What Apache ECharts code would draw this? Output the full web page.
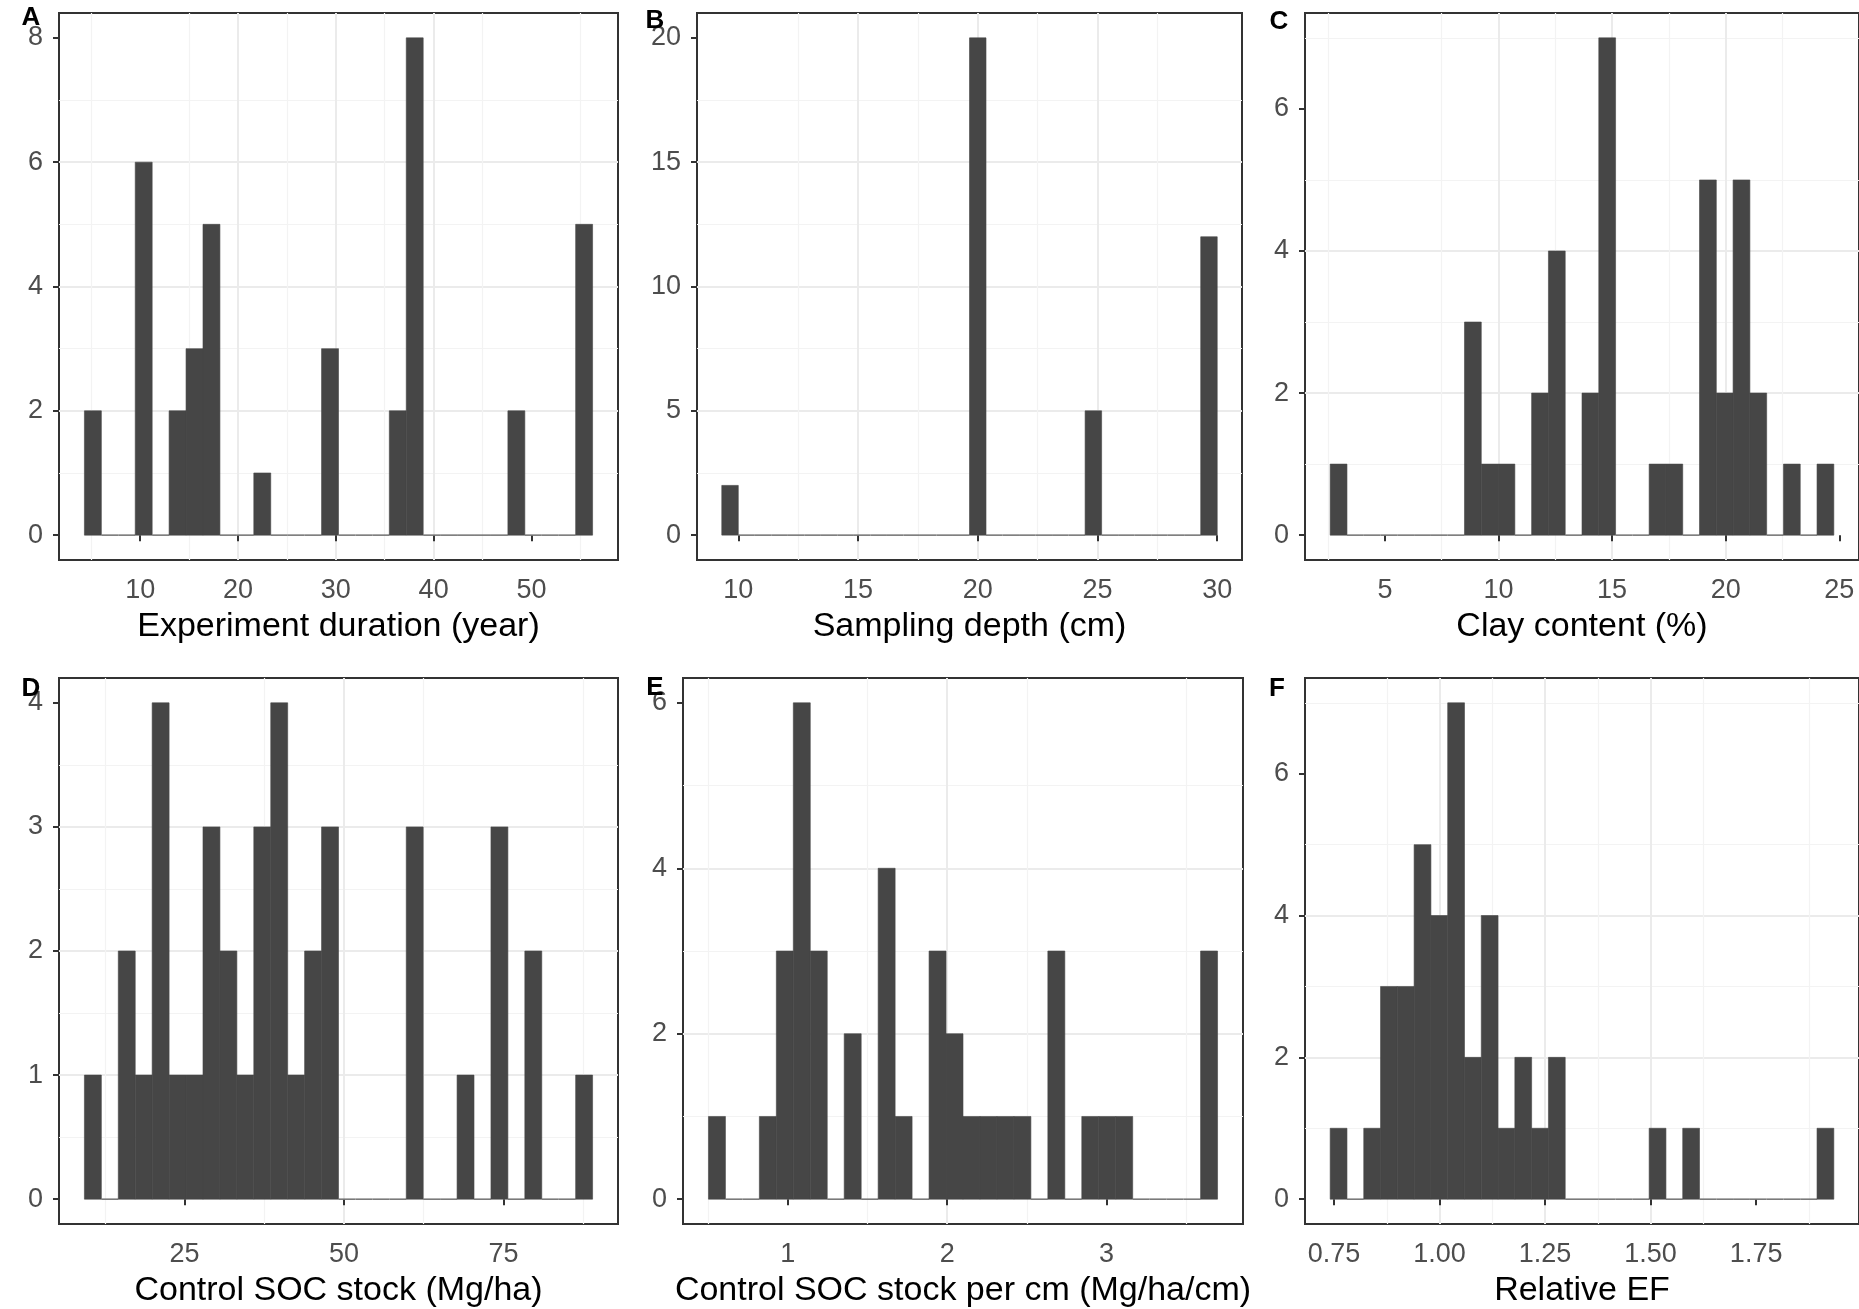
<!DOCTYPE html>
<html>
<head>
<meta charset="utf-8">
<title>Histograms</title>
<script src="https://cdn.jsdelivr.net/npm/echarts@6/dist/echarts.min.js"></script>
<style>
  html, body { margin: 0; padding: 0; background: #fff; }
  #chart { width: 1859px; height: 1309px; }
</style>
</head>
<body>
<div id="chart"></div>
<script>
// ---------------------------------------------------------------------------
// Data: 30-bin histograms (counts), outer bin edges, axis ticks
// ---------------------------------------------------------------------------
const durationCounts = [2, 0, 0, 6, 0, 2, 3, 5, 0, 0, 1, 0, 0, 0, 3, 0, 0, 0, 2, 8, 0, 0, 0, 0, 0, 2, 0, 0, 0, 5];
const durationRange  = [4.3, 56.25];
const durationTicksX = [10, 20, 30, 40, 50];
const durationTicksY = [0, 2, 4, 6, 8];

const depthCounts = [2, 0, 0, 0, 0, 0, 0, 0, 0, 0, 0, 0, 0, 0, 0, 20, 0, 0, 0, 0, 0, 0, 5, 0, 0, 0, 0, 0, 0, 12];
const depthRange  = [9.31, 30.0];
const depthTicksX = [10, 15, 20, 25, 30];
const depthTicksY = [0, 5, 10, 15, 20];

const clayCounts = [1, 0, 0, 0, 0, 0, 0, 0, 3, 1, 1, 0, 2, 4, 0, 2, 7, 0, 0, 1, 1, 0, 5, 2, 5, 2, 0, 1, 0, 1];
const clayRange  = [2.59, 24.76];
const clayTicksX = [5, 10, 15, 20, 25];
const clayTicksY = [0, 2, 4, 6];

const socCounts = [1, 0, 2, 1, 4, 1, 1, 3, 2, 1, 3, 4, 1, 2, 3, 0, 0, 0, 0, 3, 0, 0, 1, 0, 3, 0, 2, 0, 0, 1];
const socRange  = [9.3, 88.98];
const socTicksX = [25, 50, 75];
const socTicksY = [0, 1, 2, 3, 4];

const socCmCounts = [1, 0, 0, 1, 3, 6, 3, 0, 2, 0, 4, 1, 0, 3, 2, 1, 1, 1, 1, 0, 3, 0, 1, 1, 1, 0, 0, 0, 0, 3];
const socCmRange  = [0.503, 3.696];
const socCmTicksX = [1, 2, 3];
const socCmTicksY = [0, 2, 4, 6];

const efCounts = [1, 0, 1, 3, 3, 5, 4, 7, 2, 4, 1, 2, 1, 2, 0, 0, 0, 0, 0, 1, 0, 1, 0, 0, 0, 0, 0, 0, 0, 1];
const efRange  = [0.741, 1.934];
const efTicksX = [0.75, 1.0, 1.25, 1.5, 1.75];
const efTicksY = [0, 2, 4, 6];

// ---------------------------------------------------------------------------
// Panels
// ---------------------------------------------------------------------------
const FONT = "'Liberation Sans', Arial, sans-serif";

const panels = [
  { tag: "A", title: "Experiment duration (year)", counts: durationCounts, range: durationRange,
    ticksX: durationTicksX, ticksY: durationTicksY, grid: { left: 59, top: 13, width: 559, height: 547 }, tagPos: [31, 18] },
  { tag: "B", title: "Sampling depth (cm)", counts: depthCounts, range: depthRange,
    ticksX: depthTicksX, ticksY: depthTicksY, grid: { left: 697, top: 13, width: 545, height: 547 }, tagPos: [655, 21] },
  { tag: "C", title: "Clay content (%)", counts: clayCounts, range: clayRange,
    ticksX: clayTicksX, ticksY: clayTicksY, grid: { left: 1305, top: 13, width: 562, height: 547 }, tagPos: [1279, 22] },
  { tag: "D", title: "Control SOC stock (Mg/ha)", counts: socCounts, range: socRange,
    ticksX: socTicksX, ticksY: socTicksY, grid: { left: 59, top: 678, width: 559, height: 548 }, tagPos: [31, 689] },
  { tag: "E", title: "Control SOC stock per cm (Mg/ha/cm)", counts: socCmCounts, range: socCmRange,
    ticksX: socCmTicksX, ticksY: socCmTicksY, grid: { left: 683, top: 678, width: 560, height: 548 }, tagPos: [655, 688] },
  { tag: "F", title: "Relative EF", counts: efCounts, range: efRange,
    ticksX: efTicksX, ticksY: efTicksY, grid: { left: 1305, top: 678, width: 562, height: 548 }, tagPos: [1277, 689] },
];

const chart = echarts.init(document.getElementById("chart"), null, { renderer: "canvas" });

// histogram bars: [x0, x1, count]
function binData(counts, range) {
  const w = (range[1] - range[0]) / counts.length;
  return counts.map((n, i) => [range[0] + i * w, range[0] + (i + 1) * w, n]);
}

function renderBin(params, api) {
  const x0 = api.value(0), x1 = api.value(1), n = api.value(2);
  const p0 = api.coord([x0, 0]);
  const p1 = api.coord([x1, n]);
  if (n === 0) {
    return {
      type: "line",
      shape: { x1: p0[0], y1: p0[1], x2: p1[0], y2: p0[1] },
      style: { stroke: "#707070", lineWidth: 1.5 },
    };
  }
  return {
    type: "rect",
    shape: { x: p0[0], y: p1[1], width: p1[0] - p0[0], height: p0[1] - p1[1] },
    style: { fill: "#464646", stroke: "#464646", lineWidth: 0.6 },
  };
}

function axisCommon(ticks, fmt) {
  const step = ticks[1] - ticks[0];
  return {
    type: "value",
    minInterval: step,
    maxInterval: step,
    axisLine: { show: false },
    axisTick: { show: true, customValues: ticks, length: 6, lineStyle: { color: "#333", width: 2 } },
    axisLabel: { customValues: ticks, color: "#4d4d4d", fontSize: 27, fontFamily: FONT, formatter: fmt },
    splitLine: { show: true, showMinLine: false, showMaxLine: false, lineStyle: { color: "#ebebeb", width: 2 } },
    minorTick: { show: false, splitNumber: 2 },
    minorSplitLine: { show: true, lineStyle: { color: "#f3f3f3", width: 1.2 } },
  };
}

const grids = [], xAxes = [], yAxes = [], series = [], graphics = [];

panels.forEach((p, i) => {
  const span = p.range[1] - p.range[0];
  const ymax = Math.max(...p.counts);
  const decimals = p.ticksX.some((v) => !Number.isInteger(v)) ? 2 : 0;

  grids.push(Object.assign({ show: true, borderColor: "#333", borderWidth: 2, backgroundColor: "#fff" }, p.grid));

  xAxes.push(Object.assign(axisCommon(p.ticksX, (v) => Number(v).toFixed(decimals)), {
    gridIndex: i,
    min: p.range[0] - 0.05 * span,
    max: p.range[1] + 0.05 * span,
    name: p.title,
    nameLocation: "middle",
    nameGap: 50,
    nameTextStyle: { color: "#000", fontSize: 34, fontFamily: FONT },
  }));
  xAxes[i].axisLabel.margin = 17;

  yAxes.push(Object.assign(axisCommon(p.ticksY, (v) => String(v)), {
    gridIndex: i,
    min: -0.05 * ymax,
    max: 1.05 * ymax,
  }));
  yAxes[i].axisLabel.margin = 16;

  series.push({
    type: "custom",
    xAxisIndex: i,
    yAxisIndex: i,
    renderItem: renderBin,
    data: binData(p.counts, p.range),
    encode: { x: [0, 1], y: 2 },
    silent: true,
    z: 5,
  });

  graphics.push({
    type: "text",
    x: p.tagPos[0],
    y: p.tagPos[1],
    z: 100,
    style: { text: p.tag, font: `bold 26px ${FONT}`, fill: "#000", align: "center", verticalAlign: "middle" },
  });
});

chart.setOption({
  backgroundColor: "#fff",
  animation: false,
  grid: grids,
  xAxis: xAxes,
  yAxis: yAxes,
  series: series,
  graphic: graphics,
});
</script>
</body>
</html>
